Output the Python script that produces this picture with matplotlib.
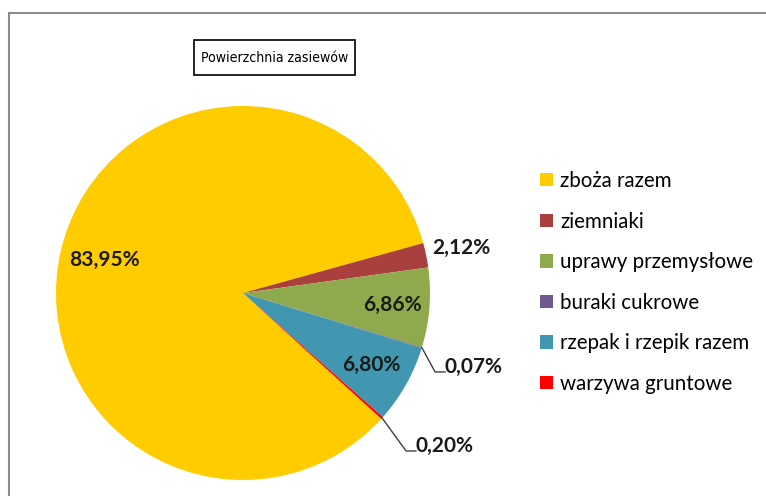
import numpy as np
import matplotlib
matplotlib.use('Agg')
import matplotlib.pyplot as plt
from matplotlib.patches import Rectangle
from matplotlib import font_manager

plt.rcParams['font.family'] = ['Lato', 'DejaVu Sans']

# dane
kategorie = ['zboża razem', 'ziemniaki', 'uprawy przemysłowe', 'buraki cukrowe',
             'rzepak i rzepik razem', 'warzywa gruntowe']
udzialy = [83.95, 2.12, 6.86, 0.07, 6.80, 0.20]
kolory = ['#FFCC00', '#A9403D', '#8EAA4C', '#725890', '#4197B0', '#FF0000']
etykiety = ['83,95%', '2,12%', '6,86%', '0,07%', '6,80%', '0,20%']

# waska czcionka do tytulu, jesli jest w systemie
waskie = [f for f in font_manager.fontManager.ttflist
          if f.stretch in ('condensed', 'semi-condensed') and f.weight in (400, 'normal')
          and f.style == 'normal' and 'Sans' in f.name]
if waskie:
    tytul_fp = font_manager.FontProperties(fname=waskie[0].fname, size=10.1)
else:
    tytul_fp = font_manager.FontProperties(family='Lato', size=10.1)

W, H = 766, 496
fig = plt.figure(figsize=(W / 100, H / 100), dpi=100)

# ramka wykresu (tylko lewa i gorna krawedz widoczne)
fig.patches.append(Rectangle((9 / W, -0.1), 1.2, 1 - 13 / H + 0.1, transform=fig.transFigure,
                             fill=False, edgecolor='#8c8c8c', linewidth=1.5))

# kolo: srodek (243, 293), promien 187 px
cx, cy, r = 243, 293, 187
ax = fig.add_axes([(cx - r) / W, (H - cy - r) / H, 2 * r / W, 2 * r / H])
wedges, _ = ax.pie(udzialy, colors=kolory, startangle=317.7, counterclock=False,
                   wedgeprops=dict(linewidth=0))
ax.set_xlim(-1, 1)
ax.set_ylim(-1, 1)
ax.set_aspect('equal')
ax.axis('off')

def srodek(w):
    return np.deg2rad((w.theta1 + w.theta2) / 2)

# etykiety wewnatrz i przy krawedzi
promienie = {0: 0.76, 1: 1.19, 2: 0.80, 4: 0.79}
for i, rr in promienie.items():
    a = srodek(wedges[i])
    ax.text(rr * np.cos(a), rr * np.sin(a), etykiety[i], ha='center', va='center',
            fontsize=15, fontweight='bold', color='#1a1a1a')

# etykiety z liniami odniesienia
odnosniki = {3: ((1.027, -0.422), (1.08, -0.422)),
             5: ((0.872, -0.845), (0.925, -0.845))}
for i, (lok, tekst) in odnosniki.items():
    a = srodek(wedges[i])
    ax.plot([np.cos(a), lok[0], tekst[0]], [np.sin(a), lok[1], tekst[1]],
            color='#404040', linewidth=1, clip_on=False)
    ax.text(tekst[0], tekst[1] - 0.005, etykiety[i], ha='left', va='baseline',
            fontsize=15, fontweight='bold', color='#1a1a1a')

# tytul w ramce (ramka 194-355 x 40-75 px)
fig.patches.append(Rectangle((194 / W, 1 - 75 / H), 161 / W, 35 / H, transform=fig.transFigure,
                             facecolor='white', edgecolor='black', linewidth=1.2))
fig.text(274.5 / W, 1 - 58 / H, 'Powierzchnia zasiewów', ha='center', va='center',
         fontproperties=tytul_fp, color='black')

# legenda
fig.legend(wedges, kategorie, loc='upper left', bbox_to_anchor=(540 / W, 1 - 171 / H),
           frameon=False, fontsize=14.8, handlelength=0.63, handleheight=0.63,
           handletextpad=0.34, labelspacing=1.0, borderpad=0, borderaxespad=0)

fig.savefig('out.png', dpi=100)
